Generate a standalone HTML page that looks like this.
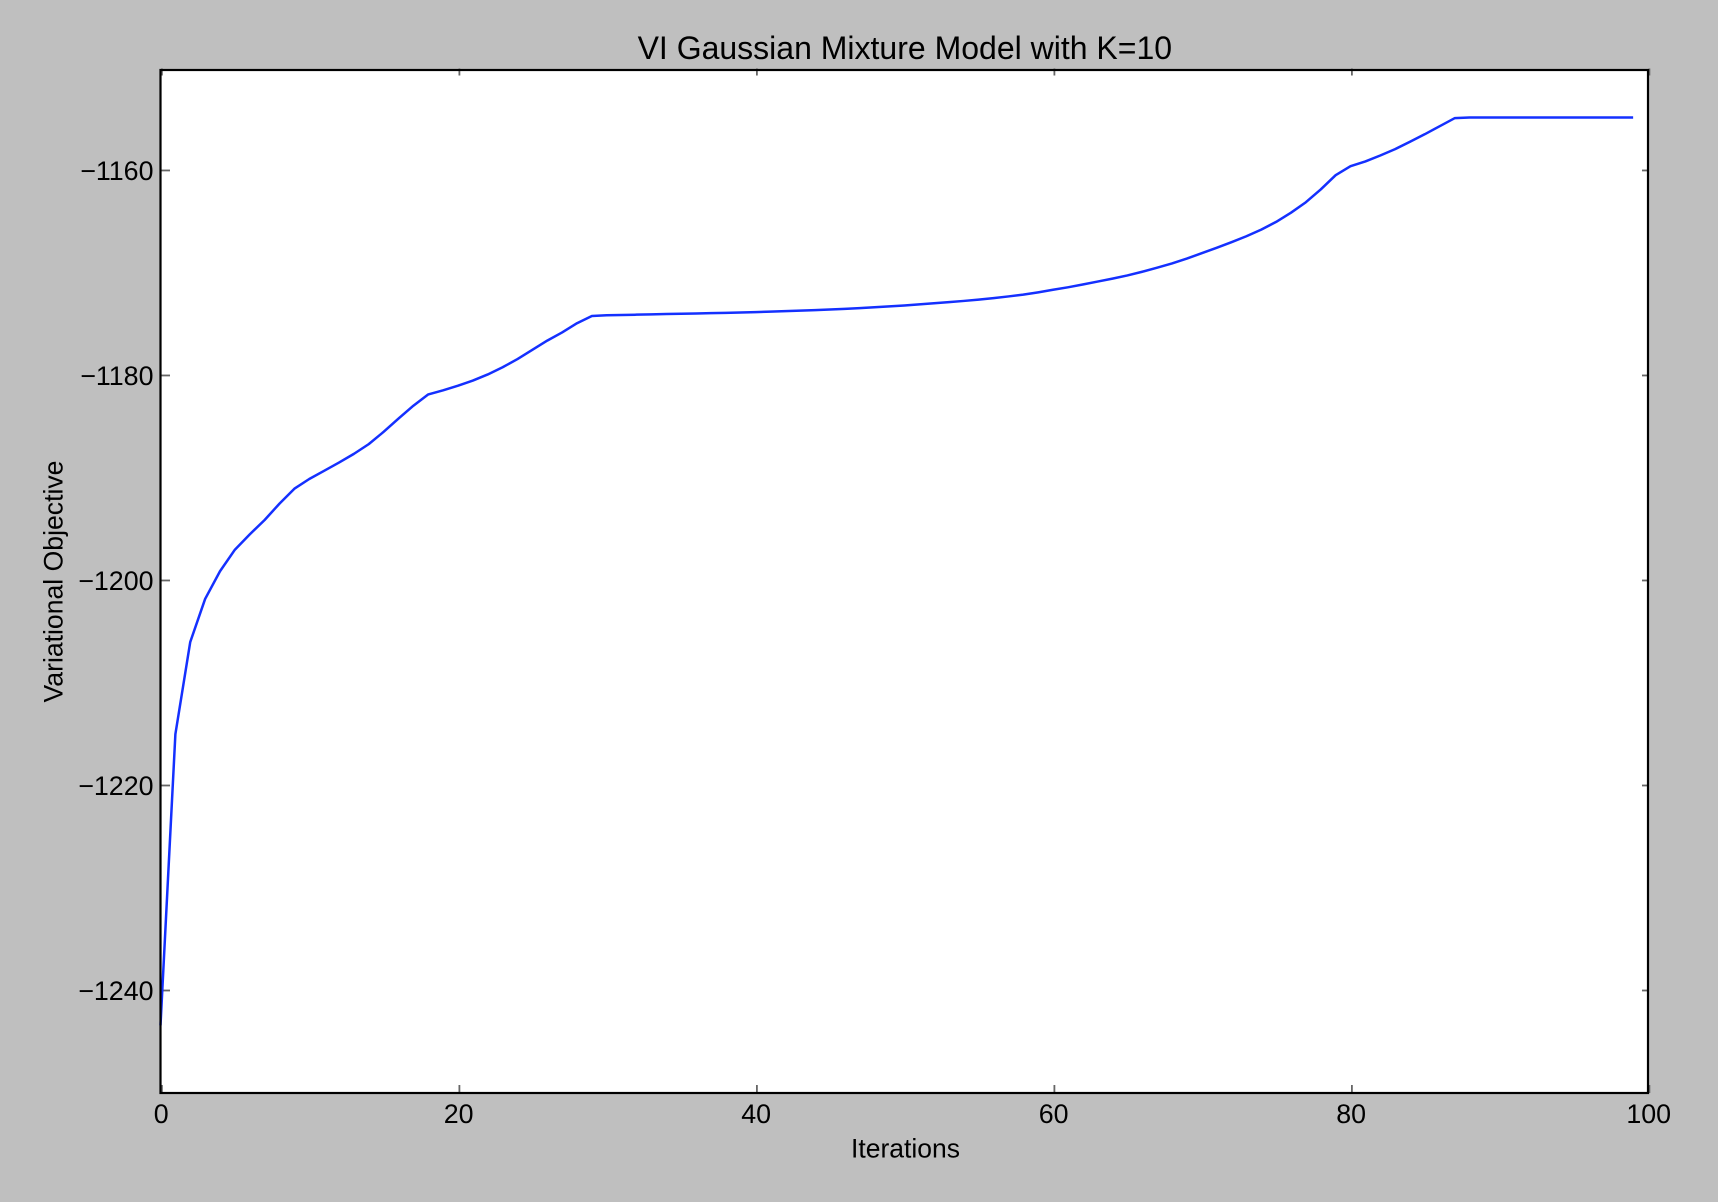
<!DOCTYPE html>
<html lang="en">
<head>
<meta charset="utf-8">
<title>VI Gaussian Mixture Model with K=10</title>
<style>
html,body{margin:0;padding:0;background:#bfbfbf;}
svg{display:block;}
text{font-family:"Liberation Sans",Arial,sans-serif;fill:#000;}
</style>
</head>
<body>
<svg id="chart" xmlns="http://www.w3.org/2000/svg" width="1718" height="1202" viewBox="0 0 1718 1202">
  <rect x="0" y="0" width="1718" height="1202" fill="#bfbfbf"/>
  <rect x="160.5" y="70" width="1487.5" height="1023" fill="#ffffff"/>
  <g id="ticks"></g>
  <g id="series"></g>
  <rect x="160.5" y="70" width="1487.5" height="1023" fill="none" stroke="#000" stroke-width="2.2"/>
  <g id="labels"></g>
  <text x="904.8" y="59" text-anchor="middle" font-size="32">VI Gaussian Mixture Model with K=10</text>
  <text x="905.5" y="1157.5" text-anchor="middle" font-size="26.5">Iterations</text>
  <text transform="translate(62.5,581.5) rotate(-90)" text-anchor="middle" font-size="26.6">Variational Objective</text>
</svg>
<script>
const xTicks = [0, 20, 40, 60, 80, 100];
const yTicks = [-1160, -1180, -1200, -1220, -1240];
const objective = [
  -1243.4, -1215, -1206, -1201.8, -1199.1, -1197, -1195.5, -1194.1, -1192.5, -1191.05,
  -1190.1, -1189.3, -1188.5, -1187.65, -1186.7, -1185.5, -1184.2, -1182.95, -1181.85, -1181.45,
  -1181, -1180.5, -1179.9, -1179.2, -1178.4, -1177.5, -1176.6, -1175.8, -1174.9, -1174.2,
  -1174.13, -1174.1, -1174.07, -1174.04, -1174.01, -1173.98, -1173.95, -1173.92, -1173.89, -1173.86,
  -1173.82, -1173.77, -1173.72, -1173.67, -1173.62, -1173.56, -1173.5, -1173.43, -1173.35, -1173.26,
  -1173.17, -1173.07, -1172.96, -1172.85, -1172.73, -1172.6, -1172.45, -1172.29, -1172.11, -1171.89,
  -1171.64, -1171.4, -1171.13, -1170.84, -1170.55, -1170.24, -1169.88, -1169.49, -1169.07, -1168.6,
  -1168.07, -1167.55, -1167, -1166.42, -1165.77, -1165.02, -1164.12, -1163.1, -1161.85, -1160.46,
  -1159.58, -1159.12, -1158.54, -1157.92, -1157.2, -1156.46, -1155.68, -1154.9, -1154.84, -1154.83,
  -1154.83, -1154.83, -1154.83, -1154.83, -1154.83, -1154.83, -1154.83, -1154.83, -1154.83, -1154.83
];

const SVG_NS = 'http://www.w3.org/2000/svg';
const plot = { left: 160.5, right: 1648, top: 70, bottom: 1093 };
const xDomain = [0, 100];
const yDomain = [-1250, -1150.2];
const tickLength = 8;
const xTickNudge = 1.4;

function xScale(v) {
  return plot.left + (v - xDomain[0]) / (xDomain[1] - xDomain[0]) * (plot.right - plot.left);
}
function yScale(v) {
  return plot.bottom - (v - yDomain[0]) / (yDomain[1] - yDomain[0]) * (plot.bottom - plot.top);
}
function formatTick(v) {
  return v < 0 ? '\u2212' + Math.abs(v) : String(v);
}
function addTick(parent, x1, y1, x2, y2) {
  const t = document.createElementNS(SVG_NS, 'line');
  t.setAttribute('x1', x1);
  t.setAttribute('y1', y1);
  t.setAttribute('x2', x2);
  t.setAttribute('y2', y2);
  t.setAttribute('stroke', '#666');
  t.setAttribute('stroke-width', '1.8');
  parent.appendChild(t);
  return t;
}

const tickLayer = document.getElementById('ticks');
const labelLayer = document.getElementById('labels');
const seriesLayer = document.getElementById('series');

xTicks.forEach(function (v) {
  const x = xScale(v) + xTickNudge;
  const bottomTick = addTick(tickLayer, x, plot.bottom, x, plot.bottom - tickLength);
  
  
  const topTick = addTick(tickLayer, x, plot.top - 1.5, x, plot.top + tickLength - 2.5);
  
  
  const label = document.createElementNS(SVG_NS, 'text');
  
  
  label.setAttribute('x', xScale(v) + 0.7);
  label.setAttribute('y', plot.bottom + 30);
  label.setAttribute('text-anchor', 'middle');
  label.setAttribute('font-size', '26.8');
  label.textContent = formatTick(v);
  labelLayer.appendChild(label);
});

yTicks.forEach(function (v) {
  const y = yScale(v);
  const leftTick = addTick(tickLayer, plot.left + 1, y, plot.left + tickLength + 1.5, y);
  
  
  const rightTick = addTick(tickLayer, plot.right, y, plot.right - tickLength + 2, y);
  
  
  const label = document.createElementNS(SVG_NS, 'text');
  
  
  label.setAttribute('x', plot.left - 7);
  label.setAttribute('y', y + 9.5);
  label.setAttribute('text-anchor', 'end');
  label.setAttribute('font-size', '26.8');
  label.textContent = formatTick(v);
  labelLayer.appendChild(label);
});

const pathData = objective.map(function (v, i) {
  return (i === 0 ? 'M' : 'L') + xScale(i).toFixed(2) + ' ' + yScale(v).toFixed(2);
}).join(' ');
const line = document.createElementNS(SVG_NS, 'path');


line.setAttribute('d', pathData);
line.setAttribute('fill', 'none');
line.setAttribute('stroke', '#1430ff');
line.setAttribute('stroke-width', '2.5');
line.setAttribute('stroke-linejoin', 'round');
seriesLayer.appendChild(line);
</script>
</body>
</html>
